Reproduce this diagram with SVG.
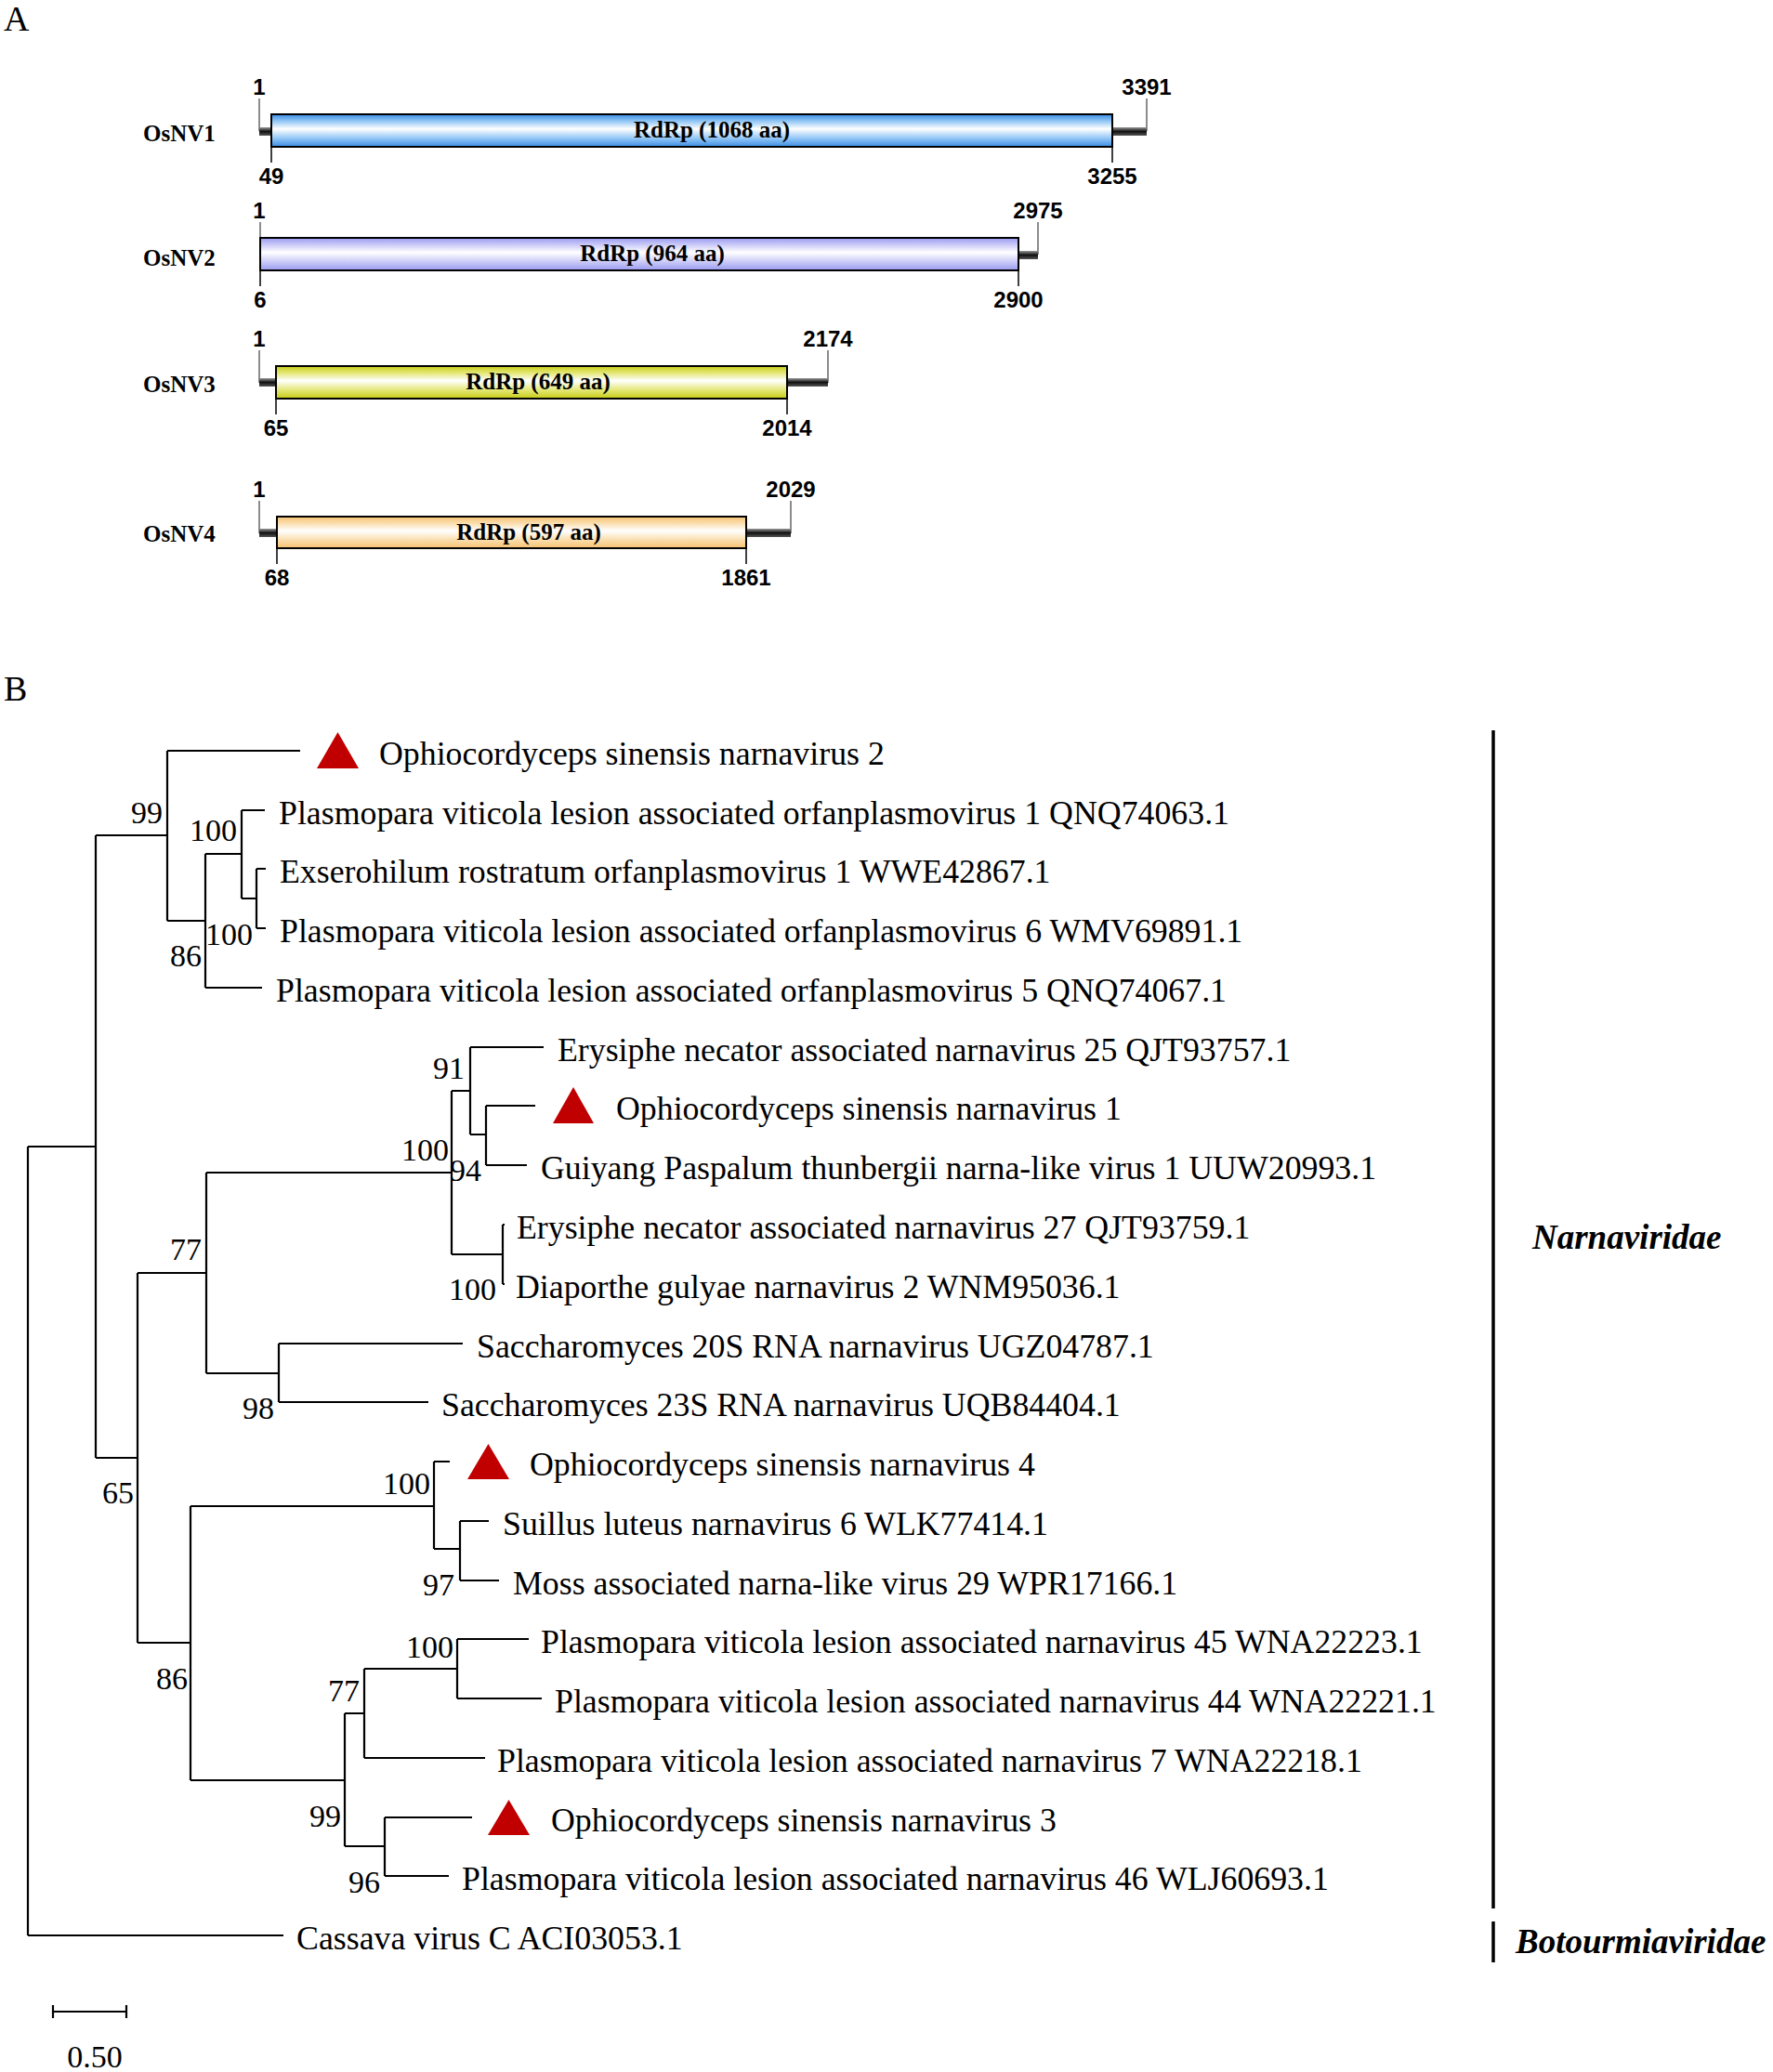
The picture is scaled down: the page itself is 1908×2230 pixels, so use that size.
<svg xmlns="http://www.w3.org/2000/svg" width="1908" height="2230" viewBox="0 0 1908 2230">
<defs>
<linearGradient id="gBlue" x1="0" y1="0" x2="0" y2="1">
<stop offset="0" stop-color="#3a8ce6"/><stop offset="0.2" stop-color="#8ec4f5"/><stop offset="0.45" stop-color="#ffffff"/><stop offset="0.75" stop-color="#8ec4f5"/><stop offset="1" stop-color="#3a8ce6"/>
</linearGradient>
<linearGradient id="gPurple" x1="0" y1="0" x2="0" y2="1">
<stop offset="0" stop-color="#9a9af0"/><stop offset="0.2" stop-color="#c8c8f8"/><stop offset="0.45" stop-color="#ffffff"/><stop offset="0.75" stop-color="#c8c8f8"/><stop offset="1" stop-color="#9a9af0"/>
</linearGradient>
<linearGradient id="gYellow" x1="0" y1="0" x2="0" y2="1">
<stop offset="0" stop-color="#c6cc14"/><stop offset="0.2" stop-color="#e2e670"/><stop offset="0.45" stop-color="#ffffff"/><stop offset="0.75" stop-color="#e2e670"/><stop offset="1" stop-color="#c6cc14"/>
</linearGradient>
<linearGradient id="gOrange" x1="0" y1="0" x2="0" y2="1">
<stop offset="0" stop-color="#f6c270"/><stop offset="0.2" stop-color="#fadcaa"/><stop offset="0.45" stop-color="#ffffff"/><stop offset="0.75" stop-color="#fadcaa"/><stop offset="1" stop-color="#f6c270"/>
</linearGradient>
<linearGradient id="gStub" x1="0" y1="0" x2="0" y2="1">
<stop offset="0" stop-color="#9a9a9a"/><stop offset="0.5" stop-color="#111111"/><stop offset="1" stop-color="#555555"/>
</linearGradient>
</defs>
<style>
.panel{font-family:"Liberation Serif","Times New Roman",serif;font-size:38px;fill:#000}
.gname{font-family:"Liberation Serif","Times New Roman",serif;font-size:25px;font-weight:bold;fill:#000}
.num{font-family:"Liberation Sans",Arial,sans-serif;font-size:24px;font-weight:bold;fill:#000;text-anchor:middle}
.rd{font-family:"Liberation Serif","Times New Roman",serif;font-size:25px;font-weight:bold;fill:#000;text-anchor:middle}
.bar{stroke:#000;stroke-width:2}
.tick{stroke:#666;stroke-width:1.5}
.btick{stroke:#000;stroke-width:1.5}
.leaf{font-family:"Liberation Serif","Times New Roman",serif;font-size:35.8px;fill:#000}
.bs{font-family:"Liberation Serif","Times New Roman",serif;font-size:34px;fill:#000;text-anchor:end}
.br{fill:none;stroke:#000;stroke-width:2.2}
.tri{fill:#c00000}
.fam{font-family:"Liberation Serif","Times New Roman",serif;font-size:37px;font-weight:bold;font-style:italic;fill:#000}
.famline{stroke:#000;stroke-width:3.5}
</style>

<text class="panel" x="4" y="33">A</text>

<g id="osnv1">
<text class="gname" x="154" y="152">OsNV1</text>
<line class="tick" x1="279" y1="106" x2="279" y2="141"/>
<line class="tick" x1="1234" y1="106" x2="1234" y2="141"/>
<rect x="279" y="137" width="13" height="9" fill="url(#gStub)"/>
<rect x="1197" y="137" width="37" height="9" fill="url(#gStub)"/>
<rect class="bar" x="292" y="123" width="905" height="35" fill="url(#gBlue)"/>
<line class="btick" x1="292" y1="158" x2="292" y2="175"/>
<line class="btick" x1="1197" y1="158" x2="1197" y2="175"/>
<text class="num" x="279" y="102">1</text>
<text class="num" x="1234" y="102">3391</text>
<text class="num" x="292" y="198">49</text>
<text class="num" x="1197" y="198">3255</text>
<text class="rd" x="766" y="148">RdRp (1068 aa)</text>
</g>

<g id="osnv2">
<text class="gname" x="154" y="286">OsNV2</text>
<line class="tick" x1="280" y1="239" x2="280" y2="256"/>
<line class="tick" x1="1117" y1="239" x2="1117" y2="274"/>
<rect x="1096" y="270" width="21" height="9" fill="url(#gStub)"/>
<rect class="bar" x="280" y="256" width="816" height="35" fill="url(#gPurple)"/>
<line class="btick" x1="280" y1="291" x2="280" y2="308"/>
<line class="btick" x1="1096" y1="291" x2="1096" y2="308"/>
<text class="num" x="279" y="235">1</text>
<text class="num" x="1117" y="235">2975</text>
<text class="num" x="280" y="331">6</text>
<text class="num" x="1096" y="331">2900</text>
<text class="rd" x="702" y="281">RdRp (964 aa)</text>
</g>

<g id="osnv3">
<text class="gname" x="154" y="422">OsNV3</text>
<line class="tick" x1="279" y1="377" x2="279" y2="412"/>
<line class="tick" x1="891" y1="377" x2="891" y2="412"/>
<rect x="279" y="407" width="18" height="9" fill="url(#gStub)"/>
<rect x="847" y="407" width="44" height="9" fill="url(#gStub)"/>
<rect class="bar" x="297" y="394" width="550" height="35" fill="url(#gYellow)"/>
<line class="btick" x1="297" y1="429" x2="297" y2="446"/>
<line class="btick" x1="847" y1="429" x2="847" y2="446"/>
<text class="num" x="279" y="373">1</text>
<text class="num" x="891" y="373">2174</text>
<text class="num" x="297" y="469">65</text>
<text class="num" x="847" y="469">2014</text>
<text class="rd" x="579" y="419">RdRp (649 aa)</text>
</g>

<g id="osnv4">
<text class="gname" x="154" y="583">OsNV4</text>
<line class="tick" x1="279" y1="539" x2="279" y2="574"/>
<line class="tick" x1="851" y1="539" x2="851" y2="574"/>
<rect x="279" y="569" width="19" height="9" fill="url(#gStub)"/>
<rect x="803" y="569" width="48" height="9" fill="url(#gStub)"/>
<rect class="bar" x="298" y="556" width="505" height="34" fill="url(#gOrange)"/>
<line class="btick" x1="298" y1="590" x2="298" y2="607"/>
<line class="btick" x1="803" y1="590" x2="803" y2="607"/>
<text class="num" x="279" y="535">1</text>
<text class="num" x="851" y="535">2029</text>
<text class="num" x="298" y="630">68</text>
<text class="num" x="803" y="630">1861</text>
<text class="rd" x="569" y="581">RdRp (597 aa)</text>
</g>

<text class="panel" x="4" y="754">B</text>

<g id="connectors">
<path class="br" d="M30,1234V2083 M30,1234H103 M30,2083H305"/>
<path class="br" d="M103,899V1569 M103,899H180 M103,1569H148"/>
<path class="br" d="M180,808V991 M180,808H323 M180,991H221"/>
<path class="br" d="M221,919V1063 M221,919H260 M221,1063H282"/>
<path class="br" d="M260,872V967 M260,872H285 M260,967H276"/>
<path class="br" d="M276,935V999 M276,935H286 M276,999H286"/>
<path class="br" d="M148,1370V1768 M148,1370H222 M148,1768H205"/>
<path class="br" d="M222,1262V1478 M222,1262H486 M222,1478H300"/>
<path class="br" d="M486,1174V1350 M486,1174H506 M486,1350H541"/>
<path class="br" d="M506,1127V1221 M506,1127H585 M506,1221H523"/>
<path class="br" d="M523,1190V1254 M523,1190H576 M523,1254H567"/>
<path class="br" d="M541,1318V1382 M541,1318H543 M541,1382H543"/>
<path class="br" d="M300,1446V1509 M300,1446H498 M300,1509H461"/>
<path class="br" d="M205,1621V1916 M205,1621H467 M205,1916H371"/>
<path class="br" d="M467,1573V1667 M467,1573H484 M467,1667H495"/>
<path class="br" d="M495,1637V1701 M495,1637H526 M495,1701H537"/>
<path class="br" d="M371,1844V1987 M371,1844H392 M371,1987H414"/>
<path class="br" d="M392,1796V1892 M392,1796H492 M392,1892H522"/>
<path class="br" d="M492,1764V1828 M492,1764H569 M492,1828H583"/>
<path class="br" d="M414,1956V2019 M414,1956H508 M414,2019H483"/>
</g>

<g id="bootstrap">
<text class="bs" x="175" y="886">99</text>
<text class="bs" x="255" y="905">100</text>
<text class="bs" x="272" y="1017">100</text>
<text class="bs" x="217" y="1040">86</text>
<text class="bs" x="217" y="1356">77</text>
<text class="bs" x="483" y="1249">100</text>
<text class="bs" x="500" y="1161">91</text>
<text class="bs" x="518" y="1271">94</text>
<text class="bs" x="534" y="1399">100</text>
<text class="bs" x="295" y="1527">98</text>
<text class="bs" x="144" y="1618">65</text>
<text class="bs" x="202" y="1818">86</text>
<text class="bs" x="463" y="1608">100</text>
<text class="bs" x="489" y="1717">97</text>
<text class="bs" x="387" y="1831">77</text>
<text class="bs" x="488" y="1784">100</text>
<text class="bs" x="367" y="1966">99</text>
<text class="bs" x="409" y="2037">96</text>
</g>

<g id="leaf0"><polygon class="tri" points="363.5,788 341,827 386,827"/><text class="leaf" x="408" y="823">Ophiocordyceps sinensis narnavirus 2</text></g>
<g id="leaf1"><text class="leaf" x="300" y="887">Plasmopara viticola lesion associated orfanplasmovirus 1 QNQ74063.1</text></g>
<g id="leaf2"><text class="leaf" x="301" y="950">Exserohilum rostratum orfanplasmovirus 1 WWE42867.1</text></g>
<g id="leaf3"><text class="leaf" x="301" y="1014">Plasmopara viticola lesion associated orfanplasmovirus 6 WMV69891.1</text></g>
<g id="leaf4"><text class="leaf" x="297" y="1078">Plasmopara viticola lesion associated orfanplasmovirus 5 QNQ74067.1</text></g>
<g id="leaf5"><text class="leaf" x="600" y="1142">Erysiphe necator associated narnavirus 25 QJT93757.1</text></g>
<g id="leaf6"><polygon class="tri" points="617,1170 595,1209 639,1209"/><text class="leaf" x="663" y="1205">Ophiocordyceps sinensis narnavirus 1</text></g>
<g id="leaf7"><text class="leaf" x="582" y="1269">Guiyang Paspalum thunbergii narna-like virus 1 UUW20993.1</text></g>
<g id="leaf8"><text class="leaf" x="556" y="1333">Erysiphe necator associated narnavirus 27 QJT93759.1</text></g>
<g id="leaf9"><text class="leaf" x="555" y="1397">Diaporthe gulyae narnavirus 2 WNM95036.1</text></g>
<g id="leaf10"><text class="leaf" x="513" y="1461">Saccharomyces 20S RNA narnavirus UGZ04787.1</text></g>
<g id="leaf11"><text class="leaf" x="475" y="1524">Saccharomyces 23S RNA narnavirus UQB84404.1</text></g>
<g id="leaf12"><polygon class="tri" points="525.5,1554 503,1592 548,1592"/><text class="leaf" x="570" y="1588">Ophiocordyceps sinensis narnavirus 4</text></g>
<g id="leaf13"><text class="leaf" x="541" y="1652">Suillus luteus narnavirus 6 WLK77414.1</text></g>
<g id="leaf14"><text class="leaf" x="552" y="1716">Moss associated narna-like virus 29 WPR17166.1</text></g>
<g id="leaf15"><text class="leaf" x="582" y="1779">Plasmopara viticola lesion associated narnavirus 45 WNA22223.1</text></g>
<g id="leaf16"><text class="leaf" x="597" y="1843">Plasmopara viticola lesion associated narnavirus 44 WNA22221.1</text></g>
<g id="leaf17"><text class="leaf" x="535" y="1907">Plasmopara viticola lesion associated narnavirus 7 WNA22218.1</text></g>
<g id="leaf18"><polygon class="tri" points="547.5,1937 525,1975 570,1975"/><text class="leaf" x="593" y="1971">Ophiocordyceps sinensis narnavirus 3</text></g>
<g id="leaf19"><text class="leaf" x="497" y="2034">Plasmopara viticola lesion associated narnavirus 46 WLJ60693.1</text></g>
<g id="leaf20"><text class="leaf" x="319" y="2098">Cassava virus C ACI03053.1</text></g>

<g id="narnaviridae">
<line class="famline" x1="1607" y1="786" x2="1607" y2="2054"/>
<text class="fam" x="1649" y="1344">Narnaviridae</text>
</g>
<g id="botourmiaviridae">
<line class="famline" x1="1607" y1="2068" x2="1607" y2="2112"/>
<text class="fam" x="1631" y="2102">Botourmiaviridae</text>
</g>

<g id="scalebar">
<path class="br" d="M57,2165H136 M57,2158V2172 M136,2158V2172"/>
<text class="leaf" x="102" y="2225" text-anchor="middle" style="font-size:34px">0.50</text>
</g>
</svg>
